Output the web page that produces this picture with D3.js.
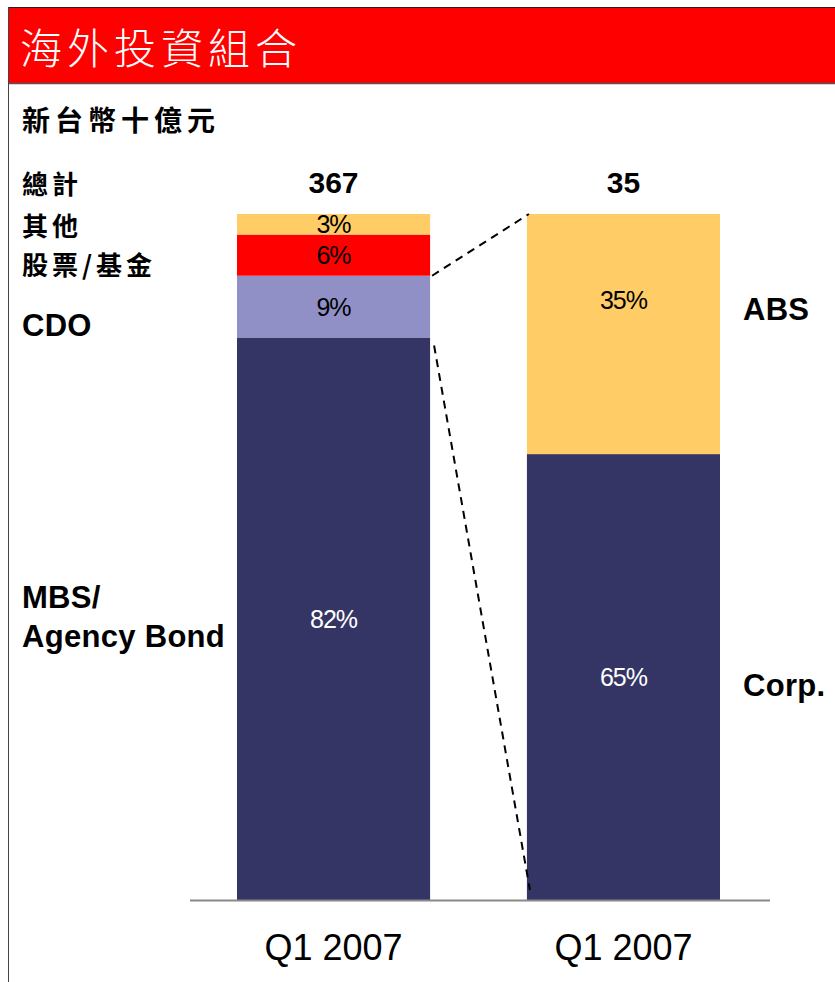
<!DOCTYPE html>
<html>
<head>
<meta charset="utf-8">
<script src="https://cdn.jsdelivr.net/npm/d3@7"></script>
<style>
  html, body { margin: 0; padding: 0; background: #fff; }
  svg { display: block; }
</style>
</head>
<body>
<svg id="chart" width="835" height="982"></svg>
<script>
// Overseas investment portfolio, NT$ billions
const title = "海外投資組合";
const unitLabel = "新台幣十億元";
const totalLabel = "總計";
const periods = ["Q1 2007", "Q1 2007"];
const totals = [367, 35];

// Left bar: whole portfolio mix (%)
const leftSeries = ["MBS/Agency Bond", "CDO", "股票/基金", "其他"];
const leftValues = [82, 9, 6, 3];

// Right bar: breakdown of the non-MBS fixed income (%)
const rightSeries = ["Corp.", "ABS"];
const rightValues = [65, 35];

const colors = {
  "MBS/Agency Bond": "#353565",
  "CDO": "#9090c6",
  "股票/基金": "#ff0000",
  "其他": "#ffcc66",
  "Corp.": "#353565",
  "ABS": "#ffcc66"
};
const labelColor = { "MBS/Agency Bond": "#fff", "Corp.": "#fff" };

const svg = d3.select("#chart");
const cjk = "'Noto Sans CJK TC', 'Noto Sans CJK SC', sans-serif";
const latin = "'Liberation Sans', Arial, sans-serif";

// Header band and frame
svg.append("rect").attr("x", 8).attr("y", 7).attr("width", 835).attr("height", 76)
  .attr("fill", "#ff0000");
svg.append("line").attr("x1", 8).attr("x2", 835).attr("y1", 7.5).attr("y2", 7.5)
  .attr("stroke", "#222").attr("stroke-width", 1);
svg.append("line").attr("x1", 8).attr("x2", 835).attr("y1", 83.5).attr("y2", 83.5)
  .attr("stroke", "#555").attr("stroke-width", 1.5);
svg.append("line").attr("x1", 8.5).attr("x2", 8.5).attr("y1", 7).attr("y2", 982)
  .attr("stroke", "#444").attr("stroke-width", 1);

svg.append("text").attr("x", 20).attr("y", 64)
  .attr("font-family", cjk).attr("font-weight", 300).attr("font-size", 42)
  .attr("fill", "#fff").attr("letter-spacing", 5).text(title);

svg.append("text").attr("x", 22).attr("y", 131)
  .attr("font-family", cjk).attr("font-weight", 700).attr("font-size", 28)
  .attr("letter-spacing", 5).attr("fill", "#000").text(unitLabel);

// Scales
const x = d3.scaleBand().domain(d3.range(periods.length))
  .range([237, 720]).paddingInner(0.334).paddingOuter(0);
const y = d3.scaleLinear().domain([0, 100]).range([900, 214]);

function stackOf(names, values) {
  let acc = 0;
  return names.map((n, i) => {
    const s = { name: n, value: values[i], y0: acc, y1: acc + values[i] };
    acc += values[i];
    return s;
  });
}
const stacks = [stackOf(leftSeries, leftValues), stackOf(rightSeries, rightValues)];

const labelOffset = { "ABS": -34 };

stacks.forEach((stack, bi) => {
  const g = svg.append("g");
  g.selectAll("rect").data(stack).join("rect")
    .attr("x", x(bi)).attr("width", x.bandwidth())
    .attr("y", d => y(d.y1)).attr("height", d => y(d.y0) - y(d.y1))
    .attr("fill", d => colors[d.name]);
  g.selectAll("text").data(stack).join("text")
    .attr("x", x(bi) + x.bandwidth() / 2)
    .attr("y", d => (y(d.y0) + y(d.y1)) / 2 + (labelOffset[d.name] || 0))
    .attr("dy", "0.36em").attr("text-anchor", "middle")
    .attr("font-family", latin).attr("font-size", 25)
    .attr("letter-spacing", -1)
    .attr("fill", d => labelColor[d.name] || "#000")
    .text(d => d.value + "%");
});

// Totals above bars
svg.append("g").selectAll("text").data(totals).join("text")
  .attr("x", (d, i) => x(i) + x.bandwidth() / 2).attr("y", 193)
  .attr("text-anchor", "middle").attr("font-family", latin)
  .attr("font-weight", 700).attr("font-size", 30).text(d => d);

// Baseline axis
const xAxis = d3.axisBottom(x).tickSize(0).tickPadding(34)
  .tickFormat(i => periods[i]);
const ax = svg.append("g").attr("transform", `translate(0,${y(0)})`).call(xAxis);
ax.select(".domain").remove();
ax.append("line").attr("x1", 190).attr("x2", 770).attr("y1", 0.5).attr("y2", 0.5)
  .attr("stroke", "#888").attr("stroke-width", 2);
ax.selectAll(".tick text").attr("font-family", latin).attr("font-size", 36)
  .attr("fill", "#000").attr("dy", "0.71em");

// Dashed zoom lines from the CDO slice to the right bar
const cdo = stacks[0].find(d => d.name === "CDO");
const xl = x(0) + x.bandwidth() + 2;
const xr = x(1) + 2;
svg.append("line").attr("x1", xl).attr("y1", y(cdo.y1))
  .attr("x2", xr).attr("y2", y(100))
  .attr("stroke", "#000").attr("stroke-width", 2).attr("stroke-dasharray", "8,6");
svg.append("line").attr("x1", xl + 2).attr("y1", y(cdo.y0) + 8)
  .attr("x2", xr + 1).attr("y2", y(0) - 10)
  .attr("stroke", "#000").attr("stroke-width", 2).attr("stroke-dasharray", "8,6");

// Series names at the sides
const sideLabels = [
  { text: totalLabel, x: 22, y: 194, cjk: true },
  { text: "其他", x: 22, y: 236, cjk: true },
  { text: "股票/基金", x: 22, y: 275, cjk: true },
  { text: "CDO", x: 22, y: 336 },
  { text: "MBS/", x: 22, y: 608 },
  { text: "Agency Bond", x: 22, y: 647 },
  { text: "ABS", x: 743, y: 320 },
  { text: "Corp.", x: 743, y: 696 }
];
svg.append("g").selectAll("text").data(sideLabels).join("text")
  .attr("x", d => d.x).attr("y", d => d.y)
  .attr("font-family", d => d.cjk ? cjk : latin)
  .attr("font-weight", 700).attr("font-size", d => d.cjk ? 26 : 31)
  .attr("letter-spacing", d => d.cjk ? 4 : 0.3)
  .text(d => d.text);
</script>
</body>
</html>
